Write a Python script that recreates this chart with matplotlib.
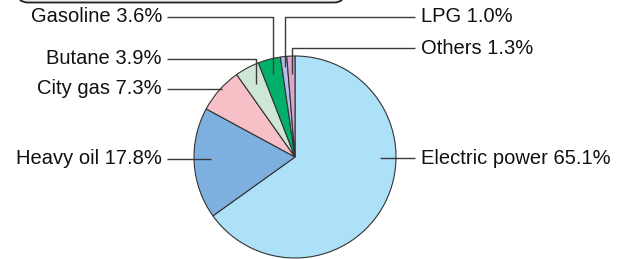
import numpy as np
import matplotlib.pyplot as plt
from matplotlib.patches import FancyBboxPatch

plt.rcParams['font.family'] = ['Liberation Sans', 'DejaVu Sans']

labels = ['Electric power', 'Heavy oil', 'City gas', 'Butane',
          'Gasoline', 'LPG', 'Others']
shares = [65.1, 17.8, 7.3, 3.9, 3.6, 1.0, 1.3]
colors = ['#ade1f8', '#7eb0df', '#f6c0c6', '#cde6d6',
          '#00b06b', '#b3bfe6', '#d9a6d0']

W, H = 629, 259
cx, cy, r = 295, 259 - 157, 101

# label layout: side, label y (image px), anchor radius fraction, leader kind
layout = {
    'Electric power': ('right', 158, 0.95, 'h'),
    'Heavy oil': ('left', 159, 0.83, 'h'),
    'City gas': ('left', 89, 0.97, 'h'),
    'Butane': ('left', 59, 0.82, 'v'),
    'Gasoline': ('left', 17, 0.85, 'v'),
    'LPG': ('right', 17, 0.9, 'v'),
    'Others': ('right', 48, 0.82, 'v'),
}


def main():
    fig = plt.figure(figsize=(W / 100, H / 100), dpi=100)
    ax = fig.add_axes([0, 0, 1, 1])
    ax.set_xlim(0, W)
    ax.set_ylim(0, H)
    ax.axis('off')

    # rounded title box cut off at the top
    box = FancyBboxPatch((17, 256.5), 328, 40, boxstyle='round,pad=0,rounding_size=11',
                         fc='#efeeec', ec='#222222', lw=1.3)
    ax.add_patch(box)

    wedges, _ = ax.pie(shares, colors=colors, startangle=90, counterclock=False,
                       center=(cx, cy), radius=r, frame=True,
                       wedgeprops=dict(edgecolor='#333333', linewidth=0.8))
    ax.set_xlim(0, W)
    ax.set_ylim(0, H)
    ax.set_aspect('equal')
    ax.axis('off')

    for w, name, val in zip(wedges, labels, shares):
        side, ly, frac, kind = layout[name]
        ly = H - ly
        mid = np.deg2rad((w.theta1 + w.theta2) / 2)
        axx = cx + frac * r * np.cos(mid)
        axy = cy + frac * r * np.sin(mid)
        end_x = 415 if side == 'right' else 167
        if kind == 'h':
            xs, ys = [axx, end_x], [ly, ly]
        else:
            xs, ys = [axx, axx, end_x], [axy, ly, ly]
        ax.plot(xs, ys, color='#3a3a3a', lw=1.0, solid_capstyle='butt')
        txt = f'{name} {val:.1f}%'
        if side == 'right':
            ax.text(421, ly, txt, ha='left', va='center', fontsize=14.5, color='#111111')
        else:
            ax.text(162, ly, txt, ha='right', va='center', fontsize=14.5, color='#111111')

    fig.savefig('out.png', dpi=100)


if __name__ == "__main__":
    main()
